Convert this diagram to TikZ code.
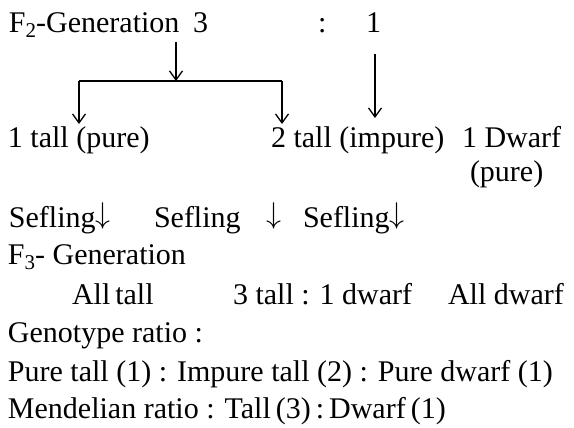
\RequirePackage{fix-cm}
\documentclass[tikz,border=0pt]{standalone}
\usepackage{fontspec}
\setmainfont{Liberation Serif}
\usetikzlibrary{arrows.meta}

\newcommand{\sbs}[1]{\raisebox{-5pt}{\fontsize{21}{21}\selectfont #1}}
\newcommand{\dn}{\raisebox{4pt}{$\downarrow$}}

\tikzset{
  txt/.style={anchor=base west, inner sep=0pt, outer sep=0pt,
              font=\fontsize{30}{36}\selectfont},
  link/.style={line width=1.3pt, line cap=butt},
  arr/.style={link, -{Straight Barb[length=9pt,width=13pt,line width=1.3pt]}}
}

\begin{document}
\begin{tikzpicture}[x=1pt,y=-1pt]
  \useasboundingbox (0,0) rectangle (574,428);

  % F2 row
  \node[txt] (f2)    at (9,33)   {F\sbs{2}-Generation};
  \node[txt] (three) at (193,33) {3};
  \node[txt] (colon) at (318,33) {:};
  \node[txt] (one)   at (366,33) {1};

  % offspring
  \node[txt] (pt)  at (8,148)   {1 tall (pure)};
  \node[txt] (it)  at (271,148) {2 tall (impure)};
  \node[txt] (dw)  at (462,148) {1 Dwarf};
  \node[txt] (dwp) at (470,182) {(pure)};

  % selfing
  \node[txt] (s1)  at (9,227)   {Sefling\dn};
  \node[txt] (s2)  at (154,227) {Sefling};
  \node[txt] (s2a) at (266,227) {\dn};
  \node[txt] (s3)  at (303,227) {Sefling\dn};

  % F3 row
  \node[txt] (f3)  at (8,265)   {F\sbs{3}- Generation};
  \node[txt] (r1)  at (72,304)  {All\,tall};
  \node[txt] (r2)  at (233,304) {3 tall : 1 dwarf};
  \node[txt] (r3)  at (448,304) {All dwarf};

  % ratios
  \node[txt] (g)   at (8,342)   {Genotype ratio :};
  \node[txt] (gr)  at (8,381)   {Pure tall (1) : Impure tall (2) : Pure dwarf (1)};
  \node[txt] (mr)  at (8,418)   {Mendelian ratio : Tall\,(3)\,:\,Dwarf\,(1)};

  % connector points
  \coordinate (ttop) at (176,42);
  \coordinate (tmid) at (176,81);
  \coordinate (bl)   at (79,81);
  \coordinate (br)   at (282,81);
  \coordinate (blt)  at (79,124);
  \coordinate (brt)  at (282,124);
  \coordinate (otop) at (375,54);
  \coordinate (otip) at (375,118);

  \draw[arr] (ttop) -- (tmid);
  \draw[link] (bl) -- (br);
  \draw[arr] (bl) -- (blt);
  \draw[arr] (br) -- (brt);
  \draw[arr] (otop) -- (otip);
\end{tikzpicture}
\end{document}
